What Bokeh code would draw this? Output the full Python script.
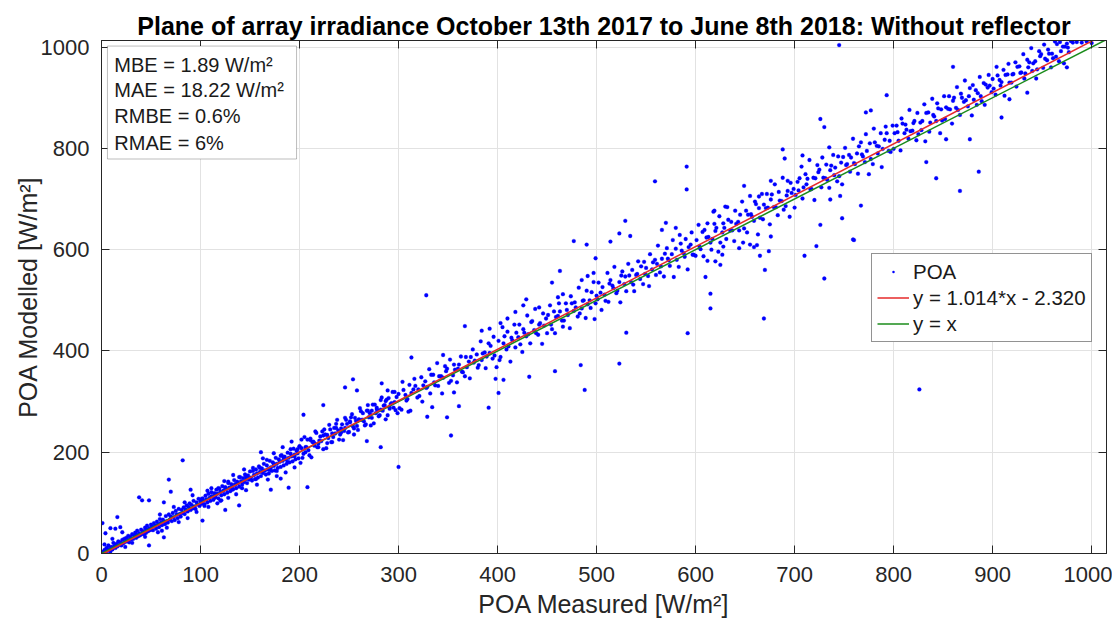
import numpy as np
from bokeh.plotting import figure
from bokeh.models import (Range1d, LinearAxis, FixedTicker, BoxAnnotation, Label,
                          Legend, LegendItem, ColumnDataSource, CustomJSTickFormatter)
from bokeh.embed import file_html
from bokeh.resources import INLINE

# ---------------- data: (POA measured, POA modelled) pairs, W/m² ----------------
poa_000_050 = [(1,3),(1,60),(2,0),(3,7),(4,40),(4,2),(5,11),(6,5),(7,16),(8,9),(9,50),(9,4),(10,13),(11,8),
    (12,21),(13,15),(14,49),(14,11),(15,19),(16,72),(16,14),(17,24),(18,17),(19,52),(19,22),(20,16),(21,42),
    (21,27),(22,20),(23,29),(24,23),(25,31),(26,24),(27,27),(27,35),(28,22),(29,33),(30,28),(31,38),(32,29),
    (33,35),(34,41),(35,31),(35,37),(36,45),(37,34),(38,111),(38,40),(39,36),(40,47),(41,105),(41,39),(42,44),
    (43,38),(44,51),(45,41),(45,47),(46,55),(47,44),(48,16),(48,105),(48,50),(49,46),(50,57),(50,49),(3,18),
    (11,29),(24,13),(31,21),(44,33)]
poa_050_100 = [(51,53),(52,46),(53,60),(54,55),(55,49),(56,63),(57,58),(58,52),(59,68),(60,61),(61,56),(62,67),
    (63,101),(63,32),(63,63),(64,58),(65,74),(66,64),(67,61),(68,146),(68,77),(69,67),(70,122),(70,73),(71,64),
    (72,80),(73,72),(74,66),(75,84),(76,77),(77,70),(78,88),(79,78),(80,73),(81,86),(82,184),(82,80),(83,91),
    (84,78),(85,87),(86,95),(87,83),(88,92),(89,99),(90,126),(90,86),(91,96),(92,89),(93,104),(94,93),(95,88),
    (96,101),(97,97),(98,108),(99,94),(100,103),(57,42),(66,51),(78,62),(87,70),(96,82),(59,77),(73,92),
    (92,115),(61,45),(84,101)]
poa_100_150 = [(101,98),(102,65),(102,109),(103,104),(104,97),(105,114),(106,107),(107,101),(108,118),(109,110),
    (110,104),(111,121),(112,113),(113,106),(114,119),(115,111),(116,126),(117,118),(118,109),(119,128),(120,122),
    (121,115),(122,133),(123,124),(124,117),(125,86),(125,131),(126,127),(127,120),(128,139),(129,130),(130,123),
    (131,137),(132,133),(133,127),(134,145),(135,136),(136,129),(137,142),(138,139),(139,95),(139,132),(140,151),
    (141,143),(142,136),(143,149),(144,141),(145,156),(146,147),(147,139),(148,154),(149,146),(150,162),(108,92),
    (117,99),(128,110),(136,117),(146,125),(111,129),(124,143),(133,155),(144,166),(120,104)]
poa_150_200 = [(151,150),(152,144),(153,163),(154,155),(155,147),(156,166),(157,158),(158,150),(159,172),(160,161),
    (161,200),(161,153),(162,168),(163,159),(164,177),(165,164),(166,156),(167,174),(168,166),(169,158),(170,183),
    (171,126),(171,170),(172,163),(173,180),(174,173),(175,164),(176,189),(177,177),(178,169),(179,186),(180,181),
    (181,171),(182,194),(183,183),(184,174),(185,191),(186,186),(187,177),(188,199),(189,130),(189,189),(190,180),
    (191,197),(192,192),(193,182),(194,207),(195,195),(196,186),(197,203),(198,198),(199,188),(200,212),(157,136),
    (168,146),(177,153),(186,160),(195,170),(163,188),(174,198),(183,210),(192,221),(181,148)]
poa_100_200_wide = [(100,107),(104,94),(107,124),(111,113),(114,110),(118,129),(121,105),(125,130),(128,142),
    (132,126),(135,137),(139,151),(142,129),(146,152),(149,148),(153,169),(156,147),(160,169),(163,163),(167,185),
    (170,165),(174,177),(177,163),(181,193),(184,189),(188,181),(191,206),(195,192),(198,206)]
poa_200_300_a = [(200,211),(203,189),(205,230),(206,210),(209,204),(211,227),(212,190),(214,221),(217,238),
    (218,210),(220,223),(223,241),(224,206),(226,235),(229,228),(230,254),(232,220),(235,248),(236,237),(238,264),
    (241,235),(242,247),(244,224),(247,264),(248,256),(250,240),(253,275),(254,251),(256,268),(259,244),(260,264),
    (262,281),(265,261),(266,253),(268,282),(271,277),(272,253),(274,294),(277,277),(278,288),(280,271),(283,308),
    (284,282),(286,293),(289,273),(290,307),(292,295),(295,288),(296,319),(299,277)]
poa_200_300_b = [(201,179),(202,225),(204,197),(207,210),(208,225),(210,194),(213,220),(215,213),(216,241),
    (219,210),(221,231),(222,222),(225,245),(227,208),(228,234),(231,245),(233,220),(234,230),(237,256),(239,243),
    (240,225),(243,255),(245,242),(246,268),(249,239),(251,259),(252,269),(255,235),(257,262),(258,252),(261,287),
    (263,264),(264,277),(267,255),(269,293),(270,269),(273,282),(275,257),(276,294),(279,282),(281,273),(282,303),
    (285,292),(287,265),(288,304),(291,286),(293,297),(294,319),(297,283),(298,309)]
poa_200_300_c = [(202,208),(206,200),(211,224),(215,218),(219,217),(224,233),(228,218),(233,237),(237,248),
    (242,239),(246,248),(251,261),(255,247),(260,265),(264,264),(269,282),(273,268),(278,285),(282,284),(287,301),
    (291,289),(296,299),(204,274),(208,131),(224,293),(246,328),(254,344),(258,322),(268,222),(282,210),(283,336),
    (289,322),(300,171)]
poa_300_400_a = [(300,315),(303,284),(304,339),(307,313),(308,302),(311,333),(312,282),(315,324),(316,345),
    (319,308),(320,324),(323,348),(324,300),(327,340),(328,327),(331,364),(332,316),(335,353),(336,338),(339,376),
    (340,331),(343,350),(344,316),(347,370),(348,360),(351,337),(352,383),(355,352),(356,373),(359,338),(360,365),
    (363,389),(364,359),(367,350),(368,388),(371,379),(372,346),(375,403),(376,377),(379,393),(380,367),(383,419),
    (384,382),(387,397),(388,366),(391,415),(392,396),(395,385),(396,428),(399,368)]
poa_300_400_b = [(301,287),(305,323),(309,305),(313,317),(317,331),(321,311),(325,332),(329,329),(333,353),
    (337,332),(341,350),(345,347),(349,365),(353,341),(357,363),(361,373),(365,358),(369,368),(373,388),(377,381),
    (381,372),(385,395),(389,389),(393,410),(397,391),(313,387),(328,510),(329,270),(334,289),(349,269),(353,233),
    (361,291),(367,449),(391,288),(392,444),(398,345),(401,317),(345,392),(356,318),(384,440),(310,280)]
poa_400_500_a = [(401,420),(402,382),(405,447),(406,415),(409,403),(410,438),(413,379),(414,426),(417,452),
    (418,407),(421,427),(422,452),(425,398),(426,443),(429,429),(430,470),(433,415),(434,457),(437,441),(438,483),
    (441,432),(442,452),(445,414),(446,474),(449,464),(450,435),(453,490),(454,452),(457,478),(458,435),(461,469),
    (462,494),(465,460),(466,448),(469,494),(470,481),(473,445),(474,508),(477,479),(478,496),(481,468),(482,525),
    (485,484),(486,499),(489,465),(490,519),(493,500),(494,485),(497,536),(498,463)]
poa_400_500_b = [(403,388),(407,429),(411,409),(415,421),(419,436),(423,413),(427,436),(431,433),(435,459),
    (439,435),(443,455),(447,450),(451,471),(455,443),(459,467),(463,478),(467,460),(471,471),(475,494),(479,486),
    (483,474),(487,500),(491,492),(495,516),(499,494),(403,455),(406,343),(410,464),(418,477),(429,502),(432,349),
    (455,535),(458,360),(461,506),(463,558),(477,617),(484,372),(488,323),(490,610),(499,583),(442,486),(426,490),
    (466,512),(485,540),(491,548),(497,554)]
poa_500_600_a = [(500,509),(502,535),(505,481),(506,526),(508,511),(511,554),(512,497),(514,540),(517,524),
    (518,566),(520,514),(523,536),(524,496),(526,557),(529,547),(530,518),(532,572),(535,536),(536,560),(538,518),
    (541,552),(542,577),(544,542),(547,532),(548,576),(550,564),(553,528),(554,591),(556,561),(559,580),(560,550),
    (562,608),(565,567),(566,582),(568,547),(571,603),(572,582),(574,568),(577,619),(578,546),(580,602),(583,566),
    (584,629),(586,598),(589,586),(590,621),(592,561),(595,610),(596,634),(598,590)]
poa_500_600_b = [(501,502),(504,515),(509,499),(513,533),(516,529),(521,519),(525,549),(528,532),(533,549),
    (537,531),(540,550),(545,567),(549,552),(552,548),(557,575),(561,572),(564,555),(569,592),(573,579),(576,591),
    (581,580),(585,612),(588,593),(593,605),(597,590),(514,616),(523,632),(529,657),(534,627),(566,639),(570,653),
    (580,643),(559,735),(591,764),(591,719),(523,375),(530,436),(592,435)]
poa_600_700_a = [(600,588),(603,649),(604,606),(607,635),(608,587),(611,624),(612,652),(615,614),(616,600),
    (619,651),(620,637),(623,596),(624,666),(627,634),(628,652),(631,621),(632,684),(635,638),(636,655),(639,617),
    (640,677),(643,655),(644,638),(647,695),(648,614),(651,677),(652,634),(655,706),(656,670),(659,657),(660,695),
    (663,630),(664,682),(667,710),(668,660),(671,682),(672,710),(675,650),(676,699),(679,684),(680,729),(683,668),
    (684,714),(687,696),(688,742),(691,686),(692,707),(695,665),(696,732),(699,720)]
poa_600_700_b = [(601,619),(605,601),(609,639),(613,625),(617,621),(621,643),(625,614),(629,643),(633,659),
    (637,638),(641,651),(645,669),(649,642),(653,669),(657,665),(661,690),(665,663),(669,689),(673,683),(677,709),
    (681,684),(685,697),(689,679),(693,716),(697,712),(610,546),(615,484),(615,513),(612,578),(620,577),(625,570),
    (627,590),(628,606),(618,675),(619,677),(630,685),(649,726),(644,603),(655,610),(659,605),(662,609),(665,588),
    (669,464),(670,560),(674,597),(664,705),(676,736),(693,736),(688,798),(690,780),(676,626)]
poa_700_800_a = [(700,683),(703,734),(704,717),(707,764),(708,701),(711,749),(712,729),(715,777),(716,719),
    (719,742),(720,698),(723,767),(724,753),(727,723),(728,782),(731,741),(732,768),(735,722),(736,757),(739,787),
    (740,747),(743,735),(744,784),(747,772),(748,729),(751,801),(752,767),(755,787),(756,754),(759,819),(760,771),
    (763,790),(764,750),(767,812),(768,788),(771,773),(772,828),(775,749),(776,810),(779,769),(780,839),(783,805),
    (784,790),(787,830),(788,763),(791,817),(792,843),(795,795),(796,815),(799,845)]
poa_700_800_b = [(701,708),(705,741),(709,723),(713,740),(717,720),(721,741),(725,758),(729,742),(733,738),
    (737,766),(741,762),(745,745),(749,783),(753,769),(757,782),(761,769),(765,804),(769,784),(773,795),(777,779),
    (781,812),(785,804),(789,799),(793,830),(797,793),(708,786),(710,588),(722,607),(726,858),(726,649),(730,842),
    (730,543),(735,802),(736,699),(745,1004),(748,662),(759,620),(760,619),(767,687),(772,871),(777,875),(793,905),
    (746,706)]
poa_800_900_a = [(800,799),(803,845),(804,832),(807,796),(808,859),(811,830),(812,847),(815,819),(816,876),
    (819,835),(820,850),(823,816),(824,870),(827,851),(828,836),(831,887),(832,814),(835,871),(836,833),(839,898),
    (840,866),(843,854),(844,889),(847,830),(848,877),(851,903),(852,858),(855,878),(856,903),(859,849),(860,894),
    (863,880),(864,921),(867,866),(868,908),(871,892),(872,934),(875,883),(876,903),(879,865),(880,925),(883,915),
    (884,886),(887,941),(888,903),(891,929),(892,886),(895,920),(896,945),(899,911)]
poa_800_900_b = [(801,830),(805,815),(809,849),(813,837),(817,834),(821,854),(825,828),(829,854),(833,870),
    (837,851),(841,863),(845,879),(849,855),(853,881),(857,877),(861,900),(865,876),(869,900),(873,895),(877,919),
    (881,896),(885,909),(889,893),(893,926),(897,924),(826,324),(833,773),(843,741),(853,818),(860,961),(867,716),
    (877,818),(886,754)]
poa_900_1015 = [(900,937),(903,906),(904,961),(907,935),(908,924),(911,955),(912,904),(915,946),(916,967),
    (919,930),(920,946),(923,970),(924,922),(927,962),(928,949),(931,986),(932,938),(935,975),(936,960),(939,998),
    (940,953),(943,972),(944,938),(947,992),(948,982),(951,959),(952,1005),(955,974),(956,995),(959,960),(960,987),
    (963,1011),(964,981),(967,972),(968,1010),(971,1001),(972,968),(975,1007),(976,999),(979,1012),(901,918),
    (905,944),(909,931),(913,945),(917,930),(921,947),(925,961),(929,950),(933,948),(937,970),(941,968),(945,956),
    (949,986),(953,977),(957,987),(961,978),(965,1006),(969,992),(973,1001),(977,990),(981,1009),(985,1010),
    (990,1009),(995,1011),(1000,1008),(909,861),(917,897),(935,910),(975,960)]

fit_slope = 1.014
fit_intercept = -2.320
x_limits = (0, 1015)
y_limits = (0, 1013)
x_ticks = [0, 100, 200, 300, 400, 500, 600, 700, 800, 900, 1000]
y_ticks = [0, 200, 400, 600, 800, 1000]
stats_lines = ["MBE = 1.89 W/m²", "MAE = 18.22 W/m²", "RMBE = 0.6%", "RMAE = 6%"]
legend_labels = ["POA", "y = 1.014*x - 2.320", "y = x"]
title_text = "Plane of array irradiance October 13th 2017 to June 8th 2018: Without reflector"

bands = [poa_000_050, poa_050_100, poa_100_150, poa_150_200, poa_100_200_wide,
         poa_200_300_a, poa_200_300_b, poa_200_300_c, poa_300_400_a, poa_300_400_b,
         poa_400_500_a, poa_400_500_b, poa_500_600_a, poa_500_600_b, poa_600_700_a, poa_600_700_b,
         poa_700_800_a, poa_700_800_b, poa_800_900_a, poa_800_900_b, poa_900_1015]
measured = [pt[0] for b in bands for pt in b]
modelled = [pt[1] for b in bands for pt in b]

# ---------------- figure ----------------
FONT = "Liberation Sans"
DARK = "#262626"

p = figure(width=1112, height=622, output_backend="svg", toolbar_location=None,
           x_range=Range1d(*x_limits), y_range=Range1d(*y_limits),
           min_border_left=101, min_border_right=6, min_border_top=40, min_border_bottom=69,
           title=title_text, background_fill_color="white", border_fill_color="white")
p.title.align = "center"
p.title.text_font = FONT
p.title.text_font_size = "25px"
p.title.text_font_style = "bold"
p.title.text_color = "black"
p.title.standoff = 2
p.outline_line_color = DARK
p.outline_line_width = 1

for ax in (p.xaxis[0], p.yaxis[0]):
    ax.axis_line_color = DARK
    ax.major_tick_line_color = DARK
    ax.major_tick_in = 8
    ax.major_tick_out = 0
    ax.minor_tick_line_color = None
    ax.major_label_text_font = FONT
    ax.major_label_text_font_size = "22px"
    ax.major_label_text_color = DARK
    ax.axis_label_text_font = FONT
    ax.axis_label_text_font_size = "25px"
    ax.axis_label_text_font_style = "normal"
    ax.axis_label_text_color = DARK
p.xaxis[0].ticker = FixedTicker(ticks=x_ticks)
p.yaxis[0].ticker = FixedTicker(ticks=y_ticks)
p.xaxis[0].axis_label = "POA Measured [W/m²]"
p.yaxis[0].axis_label = "POA Modelled [W/m²]"
p.xaxis[0].major_label_standoff = 13
p.xaxis[0].axis_label_standoff = 5
p.yaxis[0].major_label_standoff = 12
p.yaxis[0].axis_label_standoff = -4

blank = CustomJSTickFormatter(code="return ''")
top_ax = LinearAxis(ticker=FixedTicker(ticks=x_ticks), formatter=blank, major_tick_in=8, major_tick_out=0,
                    minor_tick_line_color=None, axis_line_color=DARK, major_tick_line_color=DARK,
                    major_label_standoff=0, major_label_text_font_size="1px")
right_ax = LinearAxis(ticker=FixedTicker(ticks=y_ticks), formatter=blank, major_tick_in=8, major_tick_out=0,
                      minor_tick_line_color=None, axis_line_color=DARK, major_tick_line_color=DARK,
                      major_label_standoff=0, major_label_text_font_size="1px")
p.add_layout(top_ax, "above")
p.add_layout(right_ax, "right")

p.xgrid.grid_line_color = "#e2e2e2"
p.ygrid.grid_line_color = "#e2e2e2"

src = ColumnDataSource(dict(x=measured, y=modelled))
pts = p.scatter("x", "y", source=src, size=3.8, marker="circle", fill_color="#0000ff",
                line_color="#0000ff", line_width=0.3)

line_x = list(x_limits)
fit_y = [fit_slope * v + fit_intercept for v in line_x]
green = p.line(line_x, line_x, line_color="#1b8c1b", line_width=1.5)
red = p.line(line_x, fit_y, line_color="#e62a2a", line_width=1.5)

# legend-only proxy (no visible data): a small dot like the reference's marker sample
key_src = ColumnDataSource(dict(x=np.array([np.nan]), y=np.array([np.nan])))
poa_key = p.scatter("x", "y", source=key_src, marker="dot", size=14, line_color="#0000ff",
                    fill_color="#0000ff", line_width=2)

legend = Legend(items=[LegendItem(label=legend_labels[0], renderers=[poa_key], index=0),
                       LegendItem(label=legend_labels[1], renderers=[red]),
                       LegendItem(label=legend_labels[2], renderers=[green])],
                location=(770, 211), orientation="vertical",
                label_text_font=FONT, label_text_font_size="20.5px", label_text_color="#1a1a1a",
                border_line_color=DARK, border_line_width=1, background_fill_color="white",
                background_fill_alpha=1.0, padding=5, spacing=1, margin=0,
                glyph_width=32, glyph_height=25, label_height=25, label_standoff=4)
p.add_layout(legend)

# statistics box
box = BoxAnnotation(left=6, right=197, top=1002, bottom=779, fill_color="white", fill_alpha=1.0,
                    line_color=DARK, line_width=1, level="overlay")
p.add_layout(box)
stat_y = [965, 915, 863, 811]
for txt, yy in zip(stats_lines, stat_y):
    p.add_layout(Label(x=13, y=yy, text=txt, text_baseline="middle", text_align="left",
                       text_font=FONT, text_font_size="20px", text_color="#1a1a1a", level="overlay"))

open("out.html", "w").write(file_html(p, INLINE))
